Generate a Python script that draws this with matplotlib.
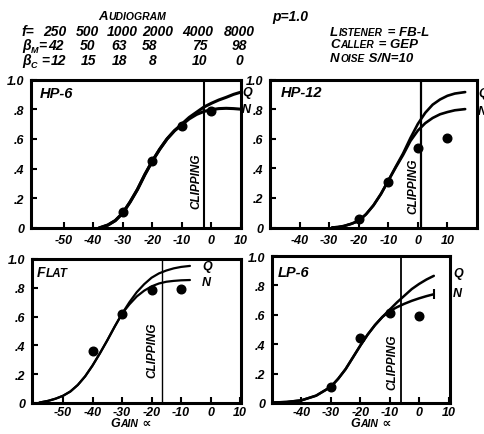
import matplotlib
matplotlib.use('Agg')
import matplotlib.pyplot as plt
from matplotlib.patches import Rectangle

plt.rcParams['font.family'] = ['Liberation Sans', 'DejaVu Sans']
plt.rcParams['font.style'] = 'italic'
plt.rcParams['font.weight'] = 'bold'
plt.rcParams['axes.unicode_minus'] = False

# ---------------- data ----------------
ytick_vals = [0, 0.2, 0.4, 0.6, 0.8, 1.0]
ytick_labels = ['0', '.2', '.4', '.6', '.8', '1.0']

freqs = ['250', '500', '1000', '2000', '4000', '8000']
beta_m = ['42', '50', '63', '58', '75', '98']
beta_c = ['12', '15', '18', '8', '10', '0']

# HP-6
hp6_pts_x = [-30, -20, -10, 0]
hp6_pts_y = [0.105, 0.45, 0.69, 0.79]
hp6_gain = [-38, -35, -32.5, -30, -27.5, -25, -22.5, -20, -17.5, -15, -12.5, -10, -7.5, -5, -2.5, 0, 2.5, 5, 7.5, 10]
hp6_q = [0, 0.02, 0.05, 0.10, 0.175, 0.26, 0.36, 0.45, 0.53, 0.60, 0.655, 0.70, 0.745, 0.78, 0.815, 0.84, 0.862, 0.88, 0.90, 0.915]
hp6_n = [0, 0.02, 0.05, 0.10, 0.175, 0.26, 0.36, 0.45, 0.53, 0.60, 0.655, 0.695, 0.735, 0.765, 0.785, 0.797, 0.804, 0.806, 0.804, 0.80]
hp6_ticks = [-50, -40, -30, -20, -10, 0, 10]

# HP-12
hp12_pts_x = [-20, -10, 0, 10]
hp12_pts_y = [0.055, 0.31, 0.54, 0.605]
hp12_gain = [-29, -27, -25, -22.5, -20, -17.5, -15, -12.5, -10, -7.5, -5, -2.5, 0, 2.5, 5, 7.5, 10, 12.5, 16]
hp12_q = [0, 0.003, 0.01, 0.025, 0.045, 0.09, 0.15, 0.226, 0.316, 0.41, 0.50, 0.605, 0.70, 0.775, 0.83, 0.865, 0.89, 0.905, 0.915]
hp12_n = [0, 0.003, 0.01, 0.025, 0.045, 0.09, 0.15, 0.226, 0.316, 0.405, 0.49, 0.585, 0.655, 0.705, 0.74, 0.765, 0.78, 0.792, 0.80]
hp12_ticks = [-40, -30, -20, -10, 0, 10]

# FLAT
flat_pts_x = [-40, -30, -20, -10]
flat_pts_y = [0.36, 0.62, 0.782, 0.795]
flat_gain = [-58, -55, -52.5, -50, -47.5, -45, -42.5, -40, -37.5, -35, -32.5, -30, -27.5, -25, -22.5, -20, -17.5, -15, -12.5, -10, -7]
flat_q = [0.003, 0.015, 0.03, 0.05, 0.08, 0.125, 0.185, 0.26, 0.345, 0.435, 0.53, 0.62, 0.70, 0.77, 0.825, 0.87, 0.90, 0.92, 0.935, 0.945, 0.952]
flat_n = [0.003, 0.015, 0.03, 0.05, 0.08, 0.125, 0.185, 0.26, 0.345, 0.435, 0.53, 0.62, 0.685, 0.74, 0.78, 0.81, 0.83, 0.842, 0.848, 0.852, 0.854]
flat_ticks = [-50, -40, -30, -20, -10, 0, 10]

# LP-6
lp6_pts_x = [-30, -20, -10, 0]
lp6_pts_y = [0.11, 0.445, 0.61, 0.595]
lp6_gain = [-50, -45, -40, -35, -30, -27.5, -25, -22.5, -20, -17.5, -15, -12.5, -10, -7.5, -5, -2.5, 0, 2.5, 5]
lp6_q = [0.003, 0.007, 0.018, 0.05, 0.11, 0.165, 0.23, 0.31, 0.39, 0.465, 0.53, 0.585, 0.635, 0.685, 0.73, 0.775, 0.81, 0.84, 0.865]
lp6_n = [0.003, 0.007, 0.018, 0.05, 0.11, 0.165, 0.23, 0.31, 0.39, 0.465, 0.53, 0.585, 0.625, 0.652, 0.675, 0.695, 0.712, 0.727, 0.74]
lp6_ticks = [-40, -30, -20, -10, 0, 10]

# ---------------- figure ----------------
W, H = 485, 435
fig = plt.figure(figsize=(W / 100, H / 100), dpi=100)
fig.patch.set_facecolor('white')


def px_axes(l, t, r, b):
    return fig.add_axes([l / W, 1 - b / H, (r - l) / W, (b - t) / H])


def panel(rect, xlim, ticks, gain, q, n, px, py, clip_x, curve_lw, clip_lw, xpad, n_endmark=False):
    ax = px_axes(*rect)
    ax.set_xlim(*xlim)
    ax.set_ylim(0, 1.0)
    ax.plot(gain, q, color='black', lw=curve_lw, solid_capstyle='round',
            solid_joinstyle='round', zorder=3)
    ax.plot(gain, n, color='black', lw=curve_lw, solid_capstyle='round',
            solid_joinstyle='round', zorder=3)
    if n_endmark:
        ax.plot([gain[-1]], [n[-1]], marker='|', ms=7, mew=1.5, color='black', zorder=3)
    ax.plot(px, py, 'o', color='black', ms=6.2, zorder=4)
    ax.axvline(clip_x, color='black', lw=clip_lw, zorder=2)
    ax.set_xticks(ticks)
    ax.set_xticklabels([str(t) for t in ticks])
    ax.set_yticks(ytick_vals)
    ax.set_yticklabels(ytick_labels)
    ax.tick_params(direction='in', length=4.5, width=1.5, labelsize=9,
                   top=False, right=False)
    ax.tick_params(axis='x', pad=xpad)
    ax.tick_params(axis='y', pad=5)
    for s in ax.spines.values():
        s.set_linewidth(2.2)
    return ax


panel((31, 80.5, 241, 229), (-61, 10), hp6_ticks, hp6_gain, hp6_q, hp6_n,
      hp6_pts_x, hp6_pts_y, -2.5, 2.2, 1.5, 4.5)
panel((270, 80.5, 477, 228.5), (-50, 20), hp12_ticks, hp12_gain, hp12_q, hp12_n,
      hp12_pts_x, hp12_pts_y, 1.0, 1.9, 1.6, 4.5)
panel((32, 260, 241, 404), (-60.5, 10.3), flat_ticks, flat_gain, flat_q, flat_n,
      flat_pts_x, flat_pts_y, -16.6, 1.6, 1.0, 2.5)
panel((272, 257, 450, 404), (-50, 10.5), lp6_ticks, lp6_gain, lp6_q, lp6_n,
      lp6_pts_x, lp6_pts_y, -6.3, 1.8, 1.3, 2.5, n_endmark=True)

# overlay in pixel coordinates (y downward)
ov = fig.add_axes([0, 0, 1, 1])
ov.set_xlim(0, W)
ov.set_ylim(H, 0)
ov.axis('off')
ov.patch.set_visible(False)

renderer = fig.canvas.get_renderer()
inv = ov.transData.inverted()


def chain(x, y, parts, gap=0.7):
    """Lay out text pieces on one baseline (small caps / subscripts).
    parts: (text, fontsize, downward pixel shift)."""
    for s, size, dy in parts:
        t = ov.text(x, y + dy, s, fontsize=size, va='baseline', ha='left')
        bb = t.get_window_extent(renderer)
        x = inv.transform((bb.x1, bb.y0))[0] + gap


# header (y values are baselines in pixels)
chain(98, 20, [('A', 9.5, 0), ('UDIOGRAM', 7.5, 0)])
ov.text(272, 21, 'p=1.0', fontsize=10, va='baseline', ha='left')

ov.text(22, 36, 'f=', fontsize=10, va='baseline', ha='left')
for cx, s in zip([55, 87, 122, 158, 198, 239], freqs):
    ov.text(cx, 36, s, fontsize=10, va='baseline', ha='center')
chain(22, 50, [('β', 10, 0), ('M', 6.5, 3), ('=', 10, 0)], gap=0.2)
for cx, s in zip([56, 88, 119, 150, 200, 239], beta_m):
    ov.text(cx, 50, s, fontsize=10, va='baseline', ha='center')
chain(22, 65, [('β', 10, 0), ('C', 6.5, 3), (' =', 10, 0)], gap=0.2)
for cx, s in zip([59, 89, 120, 153, 200, 239], beta_c):
    ov.text(cx, 65, s, fontsize=10, va='baseline', ha='center')

chain(330, 35.5, [('L', 9.5, 0), ('ISTENER', 7.3, 0), (' = FB-L', 9.5, 0)])
chain(330, 48.5, [('C', 9.5, 0), ('ALLER', 7.3, 0), (' = GEP', 9.5, 0)])
chain(330, 62, [('N', 9.5, 0), ('OISE', 7.3, 0), (' S/N=10', 9.5, 0)])

# panel names
ov.text(40, 98, 'HP-6', fontsize=10.5, va='baseline', ha='left')
ov.text(281, 97, 'HP-12', fontsize=10.5, va='baseline', ha='left')
chain(37, 277, [('F', 10, 0), ('LAT', 8.5, 0)])
ov.text(278, 277, 'LP-6', fontsize=10.5, va='baseline', ha='left')

# CLIPPING labels
for cx, cy in [(196, 181), (413, 186), (152, 350), (392, 362)]:
    ov.text(cx, cy, 'CLIPPING', fontsize=8.5, rotation=90, ha='center', va='center')

# Q / N labels
clip_rect = Rectangle((241.5, 75), 6, 50, transform=ov.transData)
for s, y in [('Q', 96), ('N', 113)]:
    t = ov.text(242, y, s, fontsize=9, va='baseline', ha='left')
    t.set_clip_path(clip_rect)
for s, y in [('Q', 97), ('N', 115)]:
    ov.text(478, y, s, fontsize=9, va='baseline', ha='left')
for s, y in [('Q', 270), ('N', 286)]:
    ov.text(202, y, s, fontsize=9, va='baseline', ha='left')
for s, y in [('Q', 277), ('N', 297)]:
    ov.text(453, y, s, fontsize=9, va='baseline', ha='left')

# x-axis titles
chain(110, 427, [('G', 9, 0), ('AIN', 7.5, 0), (' ∝', 9, 0)])
chain(350, 427, [('G', 9, 0), ('AIN', 7.5, 0), (' ∝', 9, 0)])

fig.savefig('out.png', dpi=100, facecolor='white')
